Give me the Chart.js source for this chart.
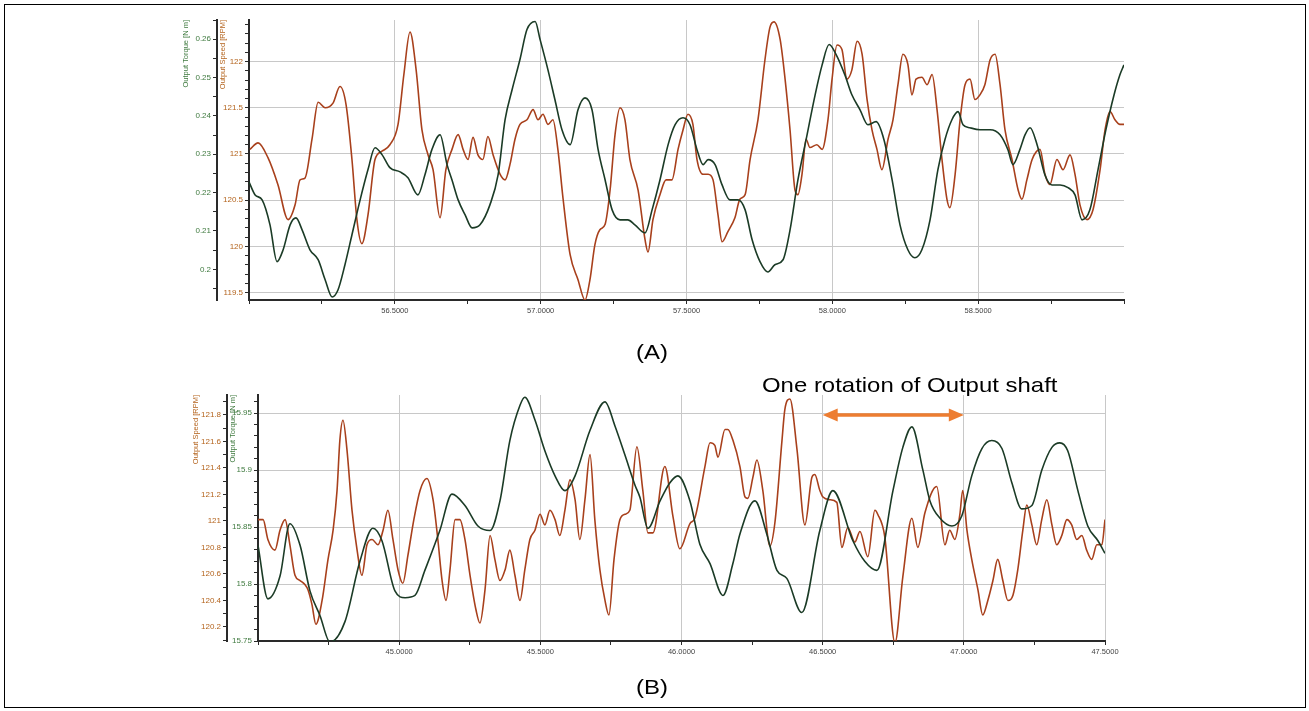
<!DOCTYPE html>
<html>
<head>
<meta charset="utf-8">
<script src="https://cdn.jsdelivr.net/npm/chart.js"></script>
<style>
  body { margin: 0; background: #fff; width: 1309px; height: 711px; position: relative; overflow: hidden; font-family: "Liberation Sans", Arial, sans-serif; }
  #frame { position: absolute; left: 4px; top: 4px; width: 1300px; height: 702px; border: 1px solid #000; }
  canvas { position: absolute; left: 0; }
  #chartA { top: 15px; }
  #chartB { top: 360px; }
  .lbl { position: absolute; font-size: 21px; line-height: 21px; color: #000; white-space: nowrap; transform: scaleX(1.14); transform-origin: left top; }
</style>
</head>
<body>
<div id="frame"></div>
<canvas id="chartA" width="1309" height="310"></canvas>
<canvas id="chartB" width="1309" height="306"></canvas>
<div class="lbl" style="left:636px; top:341px;">(A)</div>
<div class="lbl" style="left:636px; top:676px;">(B)</div>
<div class="lbl" style="left:762px; top:374px;">One rotation of Output shaft</div>
<script>
// (A) output speed [RPM]
var timeSpeedA = [56.003,56.031,56.065,56.099,56.134,56.158,56.175,56.192,56.216,56.237,56.261,56.288,56.312,56.333,56.353,56.370,56.387,56.408,56.432,56.456,56.483,56.511,56.531,56.552,56.573,56.593,56.614,56.631,56.655,56.675,56.696,56.717,56.734,56.751,56.768,56.785,56.802,56.819,56.837,56.861,56.878,56.895,56.912,56.929,56.953,56.974,56.991,57.008,57.025,57.042,57.059,57.077,57.101,57.128,57.152,57.169,57.186,57.203,57.221,57.238,57.255,57.272,57.289,57.306,57.334,57.358,57.368,57.385,57.409,57.430,57.450,57.471,57.488,57.505,57.522,57.536,57.557,57.574,57.591,57.608,57.622,57.642,57.666,57.683,57.701,57.718,57.745,57.769,57.786,57.800,57.821,57.838,57.855,57.872,57.882,57.896,57.910,57.923,57.947,57.965,57.985,57.999,58.016,58.033,58.050,58.067,58.085,58.102,58.119,58.136,58.153,58.170,58.191,58.208,58.225,58.242,58.259,58.273,58.287,58.307,58.325,58.342,58.359,58.376,58.393,58.403,58.421,58.438,58.455,58.472,58.489,58.506,58.523,58.541,58.558,58.575,58.592,58.616,58.637,58.650,58.667,58.685,58.712,58.729,58.746,58.770,58.791,58.815,58.832,58.849,58.873,58.894,58.918,58.935,58.952,58.969,58.986,59.000];
var speedA = [121.05,121.12,120.96,120.67,120.29,120.45,120.72,120.74,121.16,121.56,121.50,121.55,121.73,121.53,120.94,120.29,120.03,120.34,120.94,121.03,121.10,121.32,121.86,122.32,121.91,121.26,120.99,120.83,120.31,120.83,121.05,121.21,121.05,120.94,121.18,120.99,120.94,121.19,120.99,120.78,120.72,120.89,121.16,121.32,121.37,121.48,121.37,121.43,121.32,121.37,121.05,120.51,119.91,119.64,119.42,119.64,120.02,120.18,120.24,120.61,121.21,121.50,121.37,120.94,120.61,120.07,119.94,120.29,120.56,120.72,120.72,121.05,121.26,121.43,121.32,120.94,120.78,120.78,120.72,120.34,120.05,120.16,120.31,120.51,120.56,120.94,121.37,122.02,122.37,122.43,122.24,121.81,121.26,120.61,120.56,120.78,121.16,121.07,121.10,121.05,121.37,121.81,122.18,122.13,121.81,121.91,122.22,122.08,121.59,121.26,121.05,120.83,121.16,121.37,121.75,122.08,121.97,121.64,121.81,121.83,121.75,121.86,121.48,120.94,120.51,120.42,120.78,121.37,121.75,121.81,121.59,121.64,121.75,122.02,122.08,121.75,121.26,120.94,120.61,120.51,120.72,120.94,121.05,120.78,120.67,120.94,120.83,120.99,120.78,120.45,120.29,120.40,120.83,121.26,121.46,121.37,121.32,121.32];

// (A) output torque [N m]
var timeTorqueA = [56.000,56.021,56.045,56.072,56.096,56.117,56.141,56.161,56.182,56.209,56.237,56.261,56.285,56.305,56.329,56.353,56.381,56.408,56.432,56.456,56.483,56.518,56.545,56.579,56.603,56.627,56.655,56.679,56.696,56.717,56.741,56.765,56.792,56.826,56.854,56.878,56.902,56.929,56.953,56.981,56.998,57.025,57.049,57.073,57.101,57.128,57.152,57.176,57.197,57.221,57.245,57.272,57.299,57.323,57.358,57.382,57.409,57.437,57.461,57.488,57.512,57.536,57.557,57.574,57.598,57.622,57.649,57.677,57.701,57.725,57.752,57.779,57.803,57.831,57.855,57.882,57.910,57.941,57.965,57.989,58.013,58.043,58.067,58.095,58.122,58.150,58.177,58.205,58.232,58.259,58.283,58.307,58.335,58.362,58.386,58.410,58.431,58.448,58.472,58.506,58.541,58.575,58.602,58.619,58.643,58.661,58.678,58.702,58.729,58.753,58.781,58.808,58.832,58.856,58.883,58.911,58.938,58.966,58.986,59.000];
var torqueA = [0.2228,0.2194,0.2181,0.2116,0.2020,0.2051,0.2116,0.2134,0.2103,0.2051,0.2025,0.1973,0.1928,0.1946,0.2012,0.2090,0.2181,0.2260,0.2317,0.2299,0.2265,0.2254,0.2239,0.2194,0.2246,0.2312,0.2351,0.2273,0.2233,0.2181,0.2142,0.2108,0.2116,0.2168,0.2246,0.2390,0.2468,0.2547,0.2625,0.2646,0.2599,0.2520,0.2442,0.2364,0.2325,0.2416,0.2447,0.2416,0.2312,0.2233,0.2155,0.2129,0.2129,0.2116,0.2095,0.2155,0.2233,0.2325,0.2377,0.2395,0.2377,0.2312,0.2273,0.2286,0.2273,0.2220,0.2181,0.2181,0.2155,0.2077,0.2020,0.1993,0.2012,0.2025,0.2103,0.2233,0.2338,0.2455,0.2533,0.2586,0.2560,0.2507,0.2455,0.2416,0.2377,0.2385,0.2338,0.2233,0.2116,0.2051,0.2030,0.2051,0.2129,0.2260,0.2338,0.2390,0.2411,0.2377,0.2369,0.2364,0.2364,0.2351,0.2312,0.2273,0.2312,0.2351,0.2369,0.2325,0.2246,0.2220,0.2220,0.2213,0.2194,0.2129,0.2155,0.2260,0.2364,0.2455,0.2507,0.2533];

// (B) output speed [RPM]
var timeSpeedB = [44.500,44.518,44.535,44.560,44.578,44.596,44.613,44.631,44.649,44.666,44.677,44.691,44.705,44.727,44.748,44.766,44.780,44.790,44.801,44.815,44.833,44.851,44.868,44.886,44.904,44.925,44.943,44.960,44.978,44.996,45.013,45.031,45.052,45.074,45.098,45.120,45.137,45.152,45.166,45.180,45.198,45.215,45.233,45.251,45.272,45.286,45.304,45.322,45.339,45.357,45.375,45.392,45.410,45.428,45.445,45.463,45.481,45.499,45.516,45.534,45.552,45.569,45.587,45.605,45.623,45.640,45.658,45.676,45.693,45.711,45.729,45.743,45.761,45.782,45.800,
    45.817,45.842,45.863,45.881,45.899,45.941,45.970,45.994,46.030,46.047,46.083,46.101,46.118,46.129,46.154,46.164,46.182,46.207,46.225,46.235,46.253,46.267,46.288,46.313,46.331,46.356,46.366,46.384,46.409,46.437,46.462,46.472,46.490,46.501,46.525,46.550,46.568,46.589,46.614,46.632,46.660,46.685,46.695,46.720,46.756,46.784,46.816,46.837,46.862,46.904,
    46.933,46.950,46.968,46.986,46.996,47.011,47.028,47.050,47.067,47.085,47.103,47.120,47.138,47.156,47.174,47.191,47.209,47.223,47.241,47.258,47.276,47.294,47.312,47.329,47.347,47.365,47.382,47.400,47.418,47.435,47.453,47.471,47.489,47.500];
var speedB = [121.01,121.01,120.86,120.78,120.93,121.01,120.82,120.59,120.55,120.52,120.48,120.37,120.22,120.40,120.71,120.93,121.23,121.61,121.76,121.54,121.08,120.78,120.59,120.82,120.86,120.82,120.93,121.08,120.86,120.63,120.53,120.74,121.01,121.23,121.32,121.16,120.86,120.55,120.40,120.63,121.01,121.01,120.86,120.59,120.33,120.23,120.48,120.89,120.71,120.55,120.63,120.78,120.59,120.40,120.63,120.86,120.93,121.05,120.97,121.08,121.01,120.89,121.08,121.31,121.16,120.86,121.16,121.50,121.01,120.63,120.40,120.29,120.71,121.01,121.05,
    121.08,121.56,121.23,120.91,120.91,121.41,121.03,120.79,120.98,121.02,121.41,121.59,121.57,121.48,121.69,121.69,121.61,121.41,121.18,121.17,121.33,121.46,121.23,120.81,120.99,121.61,121.84,121.92,121.54,120.97,121.33,121.35,121.23,121.18,121.16,121.14,120.80,120.95,120.84,120.92,120.73,121.08,121.05,120.88,120.08,120.58,121.02,120.80,121.06,121.26,
    120.82,120.93,120.86,121.05,121.23,120.93,120.71,120.48,120.29,120.40,120.55,120.71,120.55,120.40,120.44,120.63,120.93,121.12,120.97,120.82,121.01,121.16,120.97,120.82,120.89,121.01,120.97,120.86,120.89,120.78,120.71,120.82,120.82,121.01];

// (B) output torque [N m]
var timeTorqueB = [44.500,44.535,44.578,44.613,44.649,44.684,44.720,44.755,44.808,44.861,44.907,44.939,44.985,45.021,45.056,45.091,45.144,45.187,45.233,45.279,45.322,45.357,45.392,45.428,45.445,45.481,45.516,45.552,45.587,45.623,45.676,45.729,45.764,45.800,45.835,
    45.853,45.881,45.924,45.959,45.987,46.030,46.065,46.101,46.147,46.182,46.207,46.260,46.302,46.338,46.373,46.426,46.490,46.536,46.607,46.649,46.692,46.749,46.784,46.816,46.855,46.880,46.915,46.958,
    46.993,47.028,47.064,47.099,47.135,47.170,47.205,47.241,47.276,47.312,47.340,47.368,47.404,47.439,47.475,47.500];
var torqueB = [15.834,15.787,15.807,15.853,15.834,15.794,15.772,15.749,15.767,15.820,15.849,15.838,15.794,15.788,15.790,15.812,15.847,15.879,15.869,15.851,15.847,15.873,15.926,15.957,15.964,15.944,15.917,15.895,15.882,15.895,15.935,15.960,15.939,15.913,15.887,
    15.876,15.849,15.873,15.889,15.895,15.873,15.835,15.818,15.790,15.818,15.844,15.873,15.844,15.812,15.805,15.775,15.847,15.882,15.838,15.820,15.812,15.882,15.920,15.938,15.900,15.873,15.858,15.851,
    15.860,15.895,15.919,15.926,15.919,15.889,15.866,15.869,15.900,15.920,15.924,15.917,15.882,15.851,15.838,15.827];

var speedColor = '#a8401c';
var torqueColor = '#1b3b26';
var speedText = '#b4641e';
var torqueText = '#3f7a3f';
var gridColor = '#c8c8c8';
var axisColor = '#2a2a2a';

function pairs(xs, ys) {
    return xs.map(function (x, i) { return { x: x, y: ys[i] }; });
}

function isMajor(v, step) {
    var r = v / step;
    return Math.abs(r - Math.round(r)) < 1e-6;
}

function yLabel(step, digits) {
    return function (v) {
        return isMajor(v, step) ? String(parseFloat(v.toFixed(digits))) : '';
    };
}

function fixWidth(w) {
    return function (s) { s.width = w; s.paddingTop = 0; s.paddingBottom = 0; };
}

function fixHeight(s) {
    s.height = 25; s.paddingLeft = 0; s.paddingRight = 0;
}

function lineSet(label, data, color, axis) {
    return {
        label: label, data: data, yAxisID: axis,
        borderColor: color, borderWidth: 1.6, pointRadius: 0,
        cubicInterpolationMode: 'monotone', fill: false
    };
}

function yAxis(opt) {
    return {
        type: 'linear', position: 'left', weight: opt.weight,
        min: opt.min, max: opt.max,
        afterFit: fixWidth(opt.width),
        border: { display: true, color: axisColor, width: 2 },
        grid: {
            drawOnChartArea: opt.grid, drawTicks: true, tickLength: 4, tickColor: axisColor,
            color: function (c) { return c.tick && isMajor(c.tick.value, opt.major) ? gridColor : 'rgba(0,0,0,0)'; }
        },
        ticks: {
            stepSize: opt.minor, autoSkip: false, maxTicksLimit: 1000, includeBounds: false,
            color: opt.textColor, padding: 2,
            font: { family: 'Liberation Sans', size: 8 },
            callback: yLabel(opt.major, opt.digits)
        },
        title: {
            display: true, text: opt.title, align: 'end', color: opt.textColor,
            padding: { top: 1, bottom: 0 },
            font: { family: 'Liberation Sans', size: 7.5 }
        }
    };
}

function xAxis(min, max, showLast) {
    return {
        type: 'linear', min: min, max: max,
        afterFit: fixHeight,
        border: { display: true, color: axisColor, width: 2 },
        grid: {
            drawTicks: true, tickLength: 4, tickColor: axisColor,
            color: function (c) {
                if (!c.tick) return 'rgba(0,0,0,0)';
                var v = c.tick.value;
                if (!isMajor(v, 0.5) || Math.abs(v - min) < 1e-6) return 'rgba(0,0,0,0)';
                if (!showLast && Math.abs(v - max) < 1e-6) return 'rgba(0,0,0,0)';
                return gridColor;
            }
        },
        ticks: {
            stepSize: 0.25, autoSkip: false, maxTicksLimit: 1000, includeBounds: false,
            maxRotation: 0, color: '#444', padding: 2,
            font: { family: 'Liberation Sans', size: 7.5 },
            callback: function (v) {
                if (!isMajor(v, 0.5) || Math.abs(v - min) < 1e-6) return '';
                if (!showLast && Math.abs(v - max) < 1e-6) return '';
                return v.toFixed(4);
            }
        }
    };
}

var rotationArrow = {
    id: 'rotationArrow',
    afterDraw: function (chart) {
        var ctx = chart.ctx;
        var x0 = chart.scales.x.getPixelForValue(46.5);
        var x1 = chart.scales.x.getPixelForValue(47.0);
        var y = chart.scales.ySpeed.getPixelForValue(121.8);
        var head = 15, half = 6.5;
        ctx.save();
        ctx.strokeStyle = '#ed7d31';
        ctx.fillStyle = '#ed7d31';
        ctx.lineWidth = 3.5;
        ctx.beginPath();
        ctx.moveTo(x0 + head - 2, y);
        ctx.lineTo(x1 - head + 2, y);
        ctx.stroke();
        ctx.beginPath();
        ctx.moveTo(x0, y); ctx.lineTo(x0 + head, y - half); ctx.lineTo(x0 + head, y + half); ctx.closePath();
        ctx.fill();
        ctx.beginPath();
        ctx.moveTo(x1, y); ctx.lineTo(x1 - head, y - half); ctx.lineTo(x1 - head, y + half); ctx.closePath();
        ctx.fill();
        ctx.restore();
    }
};

document.addEventListener('DOMContentLoaded', function () {
    var common = {
        responsive: false,
        animation: false,
        plugins: { legend: { display: false }, tooltip: { enabled: false } }
    };

    new Chart(document.getElementById('chartA').getContext('2d'), {
        type: 'line',
        data: {
            datasets: [
                lineSet('Output Torque [N m]', pairs(timeTorqueA, torqueA), torqueColor, 'yTorque'),
                lineSet('Output Speed [RPM]', pairs(timeSpeedA, speedA), speedColor, 'ySpeed')
            ]
        },
        options: Object.assign({}, common, {
            layout: { padding: { left: 180, right: 185, top: 5, bottom: 0 } },
            scales: {
                x: xAxis(56.0, 59.0, false),
                yTorque: yAxis({ weight: 2, min: 0.192, max: 0.265, width: 37, grid: false, major: 0.01, minor: 0.005, digits: 2, textColor: torqueText, title: 'Output Torque [N m]' }),
                ySpeed: yAxis({ weight: 1, min: 119.42, max: 122.45, width: 32, grid: true, major: 0.5, minor: 0.1, digits: 1, textColor: speedText, title: 'Output Speed [RPM]' })
            }
        })
    });

    new Chart(document.getElementById('chartB').getContext('2d'), {
        type: 'line',
        data: {
            datasets: [
                lineSet('Output Torque [N m]', pairs(timeTorqueB, torqueB), torqueColor, 'yTorque'),
                lineSet('Output Speed [RPM]', pairs(timeSpeedB, speedB), speedColor, 'ySpeed')
            ]
        },
        options: Object.assign({}, common, {
            layout: { padding: { left: 190, right: 204, top: 35, bottom: 0 } },
            scales: {
                x: xAxis(44.5, 47.5, true),
                ySpeed: yAxis({ weight: 2, min: 120.094, max: 121.95, width: 37, grid: false, major: 0.2, minor: 0.1, digits: 1, textColor: speedText, title: 'Output Speed [RPM]' }),
                yTorque: yAxis({ weight: 1, min: 15.75, max: 15.966, width: 31, grid: true, major: 0.05, minor: 0.01, digits: 2, textColor: torqueText, title: 'Output Torque [N m]' })
            }
        }),
        plugins: [rotationArrow]
    });
});
</script>
</body>
</html>
